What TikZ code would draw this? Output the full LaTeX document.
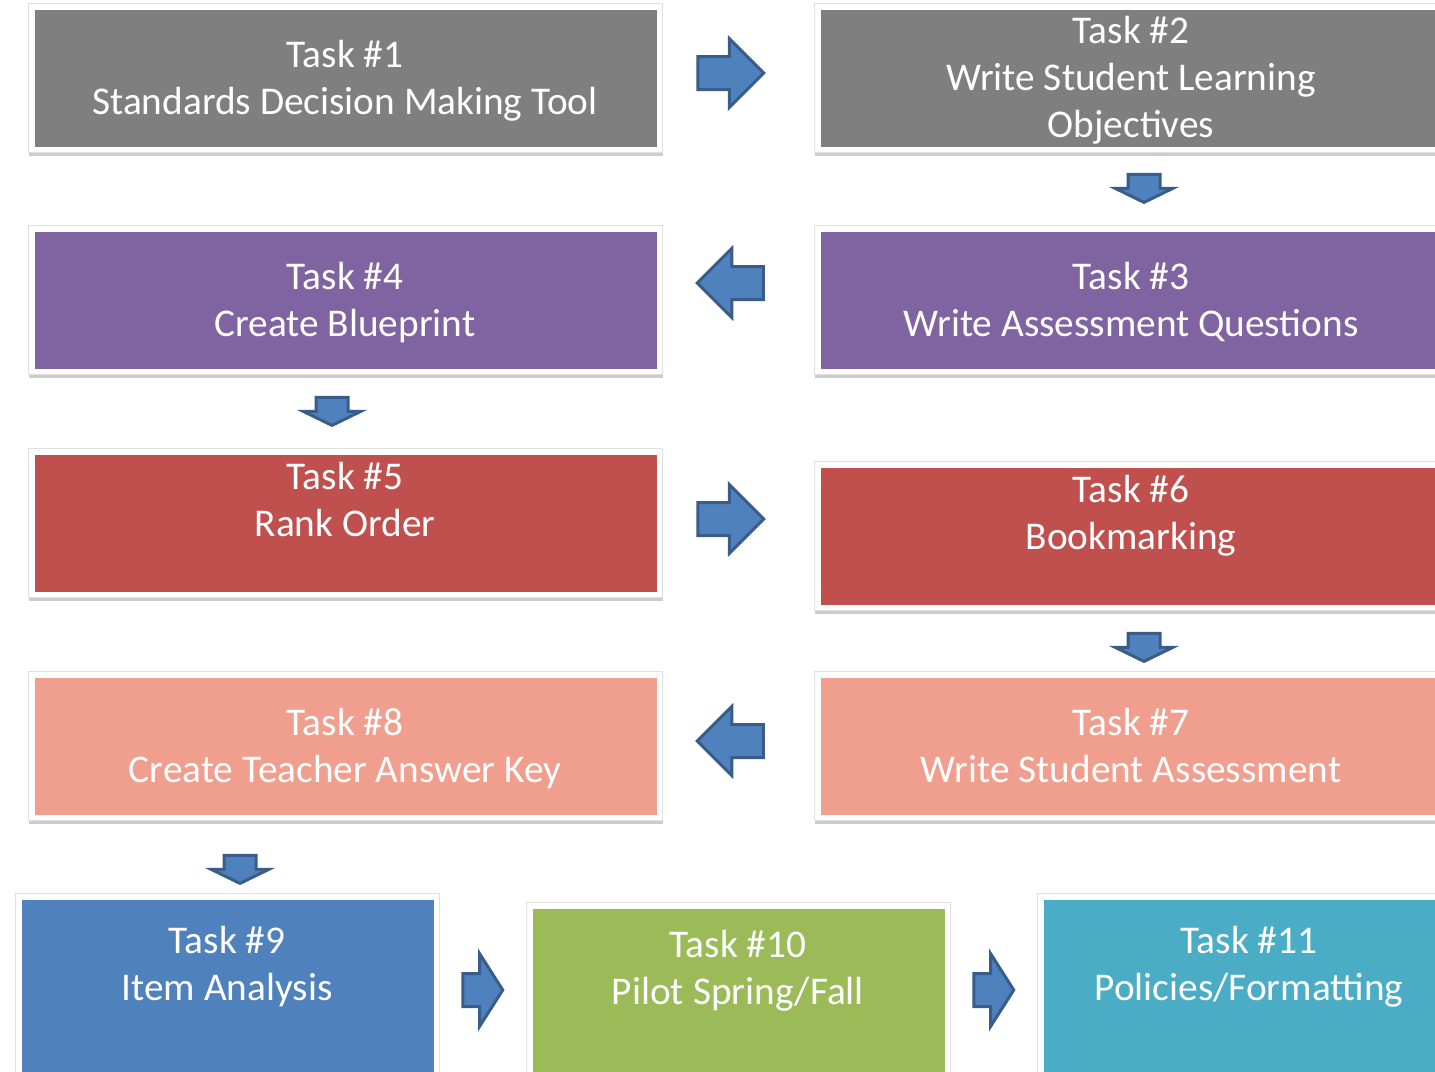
\documentclass[tikz,border=0pt]{standalone}
\usepackage{fontspec}
\setmainfont{Carlito}
\usetikzlibrary{shapes.arrows,shadows}

\definecolor{boxgray}{HTML}{7F7F7F}
\definecolor{boxpurple}{HTML}{8064A2}
\definecolor{boxred}{HTML}{C0504D}
\definecolor{boxsalmon}{HTML}{F09E8E}
\definecolor{boxblue}{HTML}{4F81BD}
\definecolor{boxgreen}{HTML}{9BBB59}
\definecolor{boxteal}{HTML}{4BACC6}
\definecolor{arrowfill}{HTML}{4F81BD}
\definecolor{arrowline}{HTML}{385D8A}

\tikzset{
  % white framed card with a coloured panel inset by 6pt
  taskbox/.style={rectangle, inner sep=0pt, anchor=north west,
    fill=white, draw=black!12, line width=1pt,
    drop shadow={shadow xshift=0pt, shadow yshift=-3pt, fill=black!20, opacity=1},
    path picture={\fill[#1]
      ([shift={(6pt,-6pt)}]path picture bounding box.north west) rectangle
      ([shift={(-6pt,6pt)}]path picture bounding box.south east);}},
  % anchored on the baseline of the last line
  tasklabel/.style={anchor=base, align=center, text=white, inner sep=0pt,
    font=\fontsize{39.3}{47}\selectfont},
  blockarrow/.style={single arrow, draw=arrowline, fill=arrowfill,
    line width=3pt, inner sep=0pt, minimum width=0pt,
    single arrow head indent=0pt},
  bigright/.style={blockarrow, shape border rotate=0, inner ysep=15pt,
    single arrow head extend=18pt, minimum height=66pt,
    single arrow tip angle=90},
  bigleft/.style={bigright, shape border rotate=180},
  smalldown/.style={blockarrow, shape border rotate=270, inner xsep=14.5pt,
    single arrow head extend=13pt, minimum height=28pt,
    single arrow tip angle=128},
  shortright/.style={blockarrow, shape border rotate=0, inner ysep=15pt,
    single arrow head extend=20pt, minimum height=40pt,
    single arrow tip angle=115},
}

\begin{document}
\begin{tikzpicture}[x=1pt,y=-1pt]
\useasboundingbox (0,0) rectangle (1435,1071);
\clip (0,0) rectangle (1435,1071);

% task cards
\node[taskbox=boxgray,   minimum width=634pt, minimum height=149pt] (t1)  at (28,3)    {};
\node[taskbox=boxgray,   minimum width=634pt, minimum height=149pt] (t2)  at (814,3)   {};
\node[taskbox=boxpurple, minimum width=634pt, minimum height=149pt] (t4)  at (28,225)  {};
\node[taskbox=boxpurple, minimum width=634pt, minimum height=149pt] (t3)  at (814,225) {};
\node[taskbox=boxred,    minimum width=634pt, minimum height=149pt] (t5)  at (28,448)  {};
\node[taskbox=boxred,    minimum width=634pt, minimum height=149pt] (t6)  at (814,461) {};
\node[taskbox=boxsalmon, minimum width=634pt, minimum height=149pt] (t8)  at (28,671)  {};
\node[taskbox=boxsalmon, minimum width=634pt, minimum height=149pt] (t7)  at (814,671) {};
\node[taskbox=boxblue,   minimum width=424pt, minimum height=230pt] (t9)  at (15,893)  {};
\node[taskbox=boxgreen,  minimum width=424pt, minimum height=230pt] (t10) at (526,902) {};
\node[taskbox=boxteal,   minimum width=424pt, minimum height=230pt] (t11) at (1037,893) {};

% card texts
\node[tasklabel] (l1)  at (345,114)  {Task \#1\\Standards Decision Making Tool};
\node[tasklabel] (l2)  at (1131,137) {Task \#2\\Write Student Learning\\Objectives};
\node[tasklabel] (l4)  at (345,336)  {Task \#4\\Create Blueprint};
\node[tasklabel] (l3)  at (1131,336) {Task \#3\\Write Assessment Questions};
\node[tasklabel] (l5)  at (345,536)  {Task \#5\\Rank Order};
\node[tasklabel] (l6)  at (1131,549) {Task \#6\\Bookmarking};
\node[tasklabel] (l8)  at (345,782)  {Task \#8\\Create Teacher Answer Key};
\node[tasklabel] (l7)  at (1131,782) {Task \#7\\Write Student Assessment};
\node[tasklabel] (l9)  at (227,1000) {Task \#9\\Item Analysis};
\node[tasklabel] (l10) at (738,1004) {Task \#10\\Pilot Spring/Fall};
\node[tasklabel] (l11) at (1249,1000) {Task \#11\\Policies/Formatting};

% block arrows between the cards
\node[bigright]   (a12)   at (722.5,73)    {};
\node[smalldown]  (a23)   at (1144,184.5)  {};
\node[bigleft]    (a34)   at (738.5,283)   {};
\node[smalldown]  (a45)   at (332,407.5)   {};
\node[bigright]   (a56)   at (722.5,519)   {};
\node[smalldown]  (a67)   at (1144,643.5)  {};
\node[bigleft]    (a78)   at (738.5,741)   {};
\node[smalldown]  (a89)   at (240,865.5)   {};
\node[shortright] (a910)  at (477.5,990)   {};
\node[shortright] (a1011) at (988.5,990)   {};
\end{tikzpicture}
\end{document}
